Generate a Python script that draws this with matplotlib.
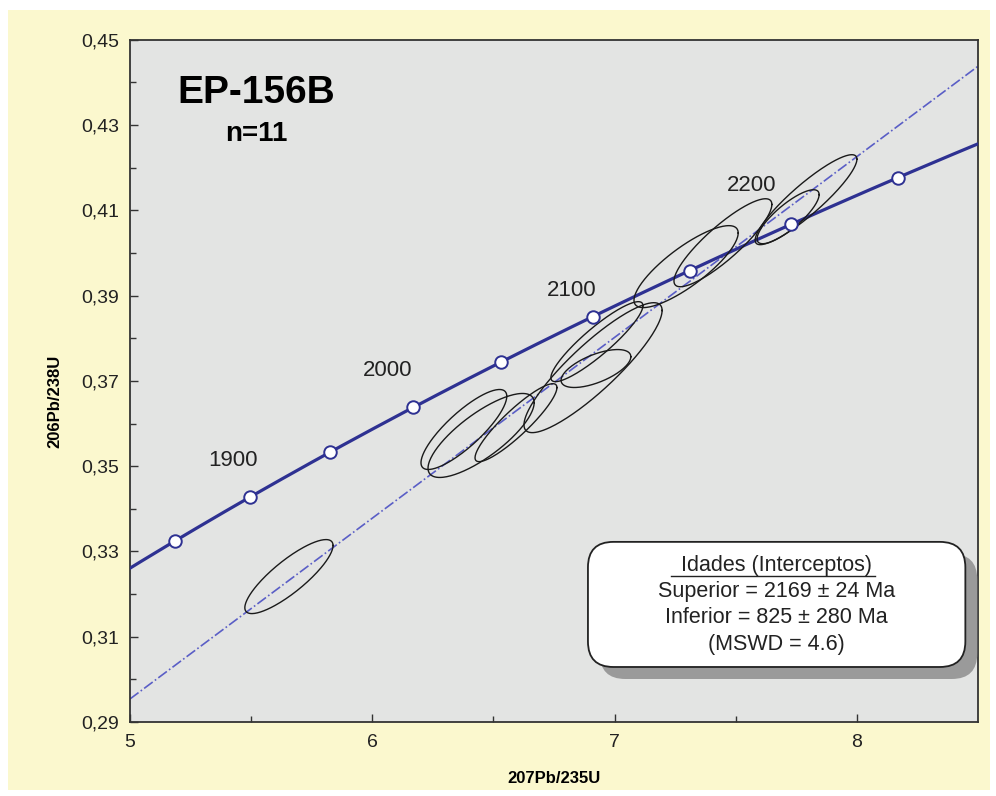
import numpy as np
import matplotlib
matplotlib.use("Agg")
import matplotlib.pyplot as plt
from matplotlib.patches import Rectangle, FancyBboxPatch
from matplotlib.lines import Line2D

plt.rcParams['font.family'] = ['Liberation Sans', 'DejaVu Sans']

# decay constants (1/Ma)
L238 = 1.55125e-4
L235 = 9.8485e-4

# concordia tick ages (Ma) and labelled ages
tick_ages = [1850, 1900, 1950, 2000, 2050, 2100, 2150, 2200, 2250]
label_ages = ['1900', '2000', '2100', '2200']
label_x = [5.425, 6.065, 6.824, 7.567]
label_y = [0.3513, 0.3724, 0.3912, 0.4158]

# intercept ages (Ma)
upper_age = 2169
lower_age = 825

# analyses: 207Pb/235U, 206Pb/238U, errors and error correlation
pb207_u235 = [5.656, 6.378, 6.449, 6.593, 6.911, 6.923, 6.927, 7.295, 7.447, 7.716, 7.790]
pb206_u238 = [0.3241, 0.3586, 0.3572, 0.3602, 0.3731, 0.3729, 0.3792, 0.3968, 0.4024, 0.4085, 0.4125]
err_x = [0.182, 0.177, 0.219, 0.169, 0.285, 0.144, 0.190, 0.215, 0.202, 0.128, 0.210]
err_y = [0.00868, 0.00938, 0.00985, 0.00914, 0.01524, 0.00445, 0.00938, 0.00961, 0.01032, 0.00633, 0.01055]
rho = [0.84, 0.83, 0.78, 0.90, 0.88, 0.62, 0.90, 0.82, 0.87, 0.82, 0.90]


def concordia(t):
    t = np.asarray(t, dtype=float)
    return np.exp(L235 * t) - 1, np.exp(L238 * t) - 1


fig = plt.figure(figsize=(9.96, 7.96), dpi=100, facecolor='white')
fig.patches.append(Rectangle((0.008, 0.008), 0.986, 0.979, transform=fig.transFigure,
                             facecolor='#FBF8CE', edgecolor='none', zorder=-10))
ax = fig.add_axes([0.1305, 0.093, 0.8515, 0.857])
ax.set_facecolor('#E3E4E3')

# concordia curve
t_curve = np.linspace(1790, 2320, 200)
cx, cy = concordia(t_curve)
ax.plot(cx, cy, color='#2E3192', lw=2.3, zorder=3)
mx, my = concordia(tick_ages)
ax.plot(mx, my, 'o', ms=9, mfc='white', mec='#2E3192', mew=1.4, zorder=5)
for s, x, y in zip(label_ages, label_x, label_y):
    ax.text(x, y, s, fontsize=16, ha='center', va='center', color='#222222')

# discordia
ux, uy = concordia(upper_age)
lx, ly = concordia(lower_age)
slope = (uy - ly) / (ux - lx)
xd = np.array([5.0, 8.5])
ax.plot(xd, ly + slope * (xd - lx), color='#5A5EC6', lw=1.2, ls='-.', zorder=2)

# error ellipses
t = np.linspace(0, 2 * np.pi, 200)
for x0, y0, sx, sy, r in zip(pb207_u235, pb206_u238, err_x, err_y, rho):
    ex = x0 + sx * np.cos(t)
    ey = y0 + sy * (r * np.cos(t) + np.sqrt(1 - r * r) * np.sin(t))
    ax.plot(ex, ey, color='#1a1a1a', lw=1.0, zorder=4)

ax.set_xlim(5, 8.5)
ax.set_ylim(0.29, 0.45)
ax.set_xticks([5, 6, 7, 8])
ax.set_xticks([5.5, 6.5, 7.5], minor=True)
yt = np.arange(0.29, 0.4501, 0.02)
ax.set_yticks(yt)
ax.set_yticks(np.arange(0.30, 0.45, 0.02), minor=True)
ax.set_yticklabels([f'{v:.2f}'.replace('.', ',') for v in yt])
ax.set_xticklabels(['5', '6', '7', '8'])

for lab in ax.get_xticklabels() + ax.get_yticklabels():
    lab.set_fontsize(14)
    lab.set_color('#222222')
ax.tick_params(which='major', direction='in', length=6, width=1, color='#333333', pad=9)
ax.tick_params(which='minor', direction='in', length=4, width=1, color='#333333')
ax.tick_params(axis='y', pad=8)
for sp in ax.spines.values():
    sp.set_color('#333333')
    sp.set_linewidth(1.3)

ax.set_xlabel('207Pb/235U', fontsize=12, fontweight='bold', labelpad=14)
ax.set_ylabel('206Pb/238U', fontsize=12, fontweight='bold')
ax.yaxis.set_label_coords(-0.08, 0.47)

# sample name
ax.text(0.1486, 0.922, 'EP-156B', transform=ax.transAxes, fontsize=28, fontweight='bold',
        ha='center', va='center')
ax.text(0.1486, 0.862, 'n=11', transform=ax.transAxes, fontsize=20, fontweight='bold',
        ha='center', va='center')

# results box with shadow
aspect = 0.8515 * 996 / (0.857 * 796)
bx0, by0, bw, bh = 0.540, 0.0806, 0.445, 0.1834
ax.add_patch(FancyBboxPatch((bx0 + 0.014, by0 - 0.0176), bw, bh, transform=ax.transAxes,
                            boxstyle='round,pad=0,rounding_size=0.03', mutation_aspect=aspect,
                            facecolor='#9a9a9a', edgecolor='none', zorder=6))
ax.add_patch(FancyBboxPatch((bx0, by0), bw, bh, transform=ax.transAxes,
                            boxstyle='round,pad=0,rounding_size=0.03', mutation_aspect=aspect,
                            facecolor='white', edgecolor='#222222', lw=1.3, zorder=7))
lines = ['Idades (Interceptos)', 'Superior = 2169 \u00b1 24 Ma',
         'Inferior = 825 \u00b1 280 Ma', '(MSWD = 4.6)']
ys = [0.230, 0.1906, 0.1525, 0.1129]
for s, y in zip(lines, ys):
    ax.text(0.762, y, s, transform=ax.transAxes, fontsize=15.5, ha='center', va='center',
            color='#222222', zorder=8)
ax.add_line(Line2D([0.638, 0.879], [0.2145, 0.2145], transform=ax.transAxes,
                   color='#222222', lw=1.0, zorder=8))

fig.savefig('out.png', dpi=100, facecolor=fig.get_facecolor())
